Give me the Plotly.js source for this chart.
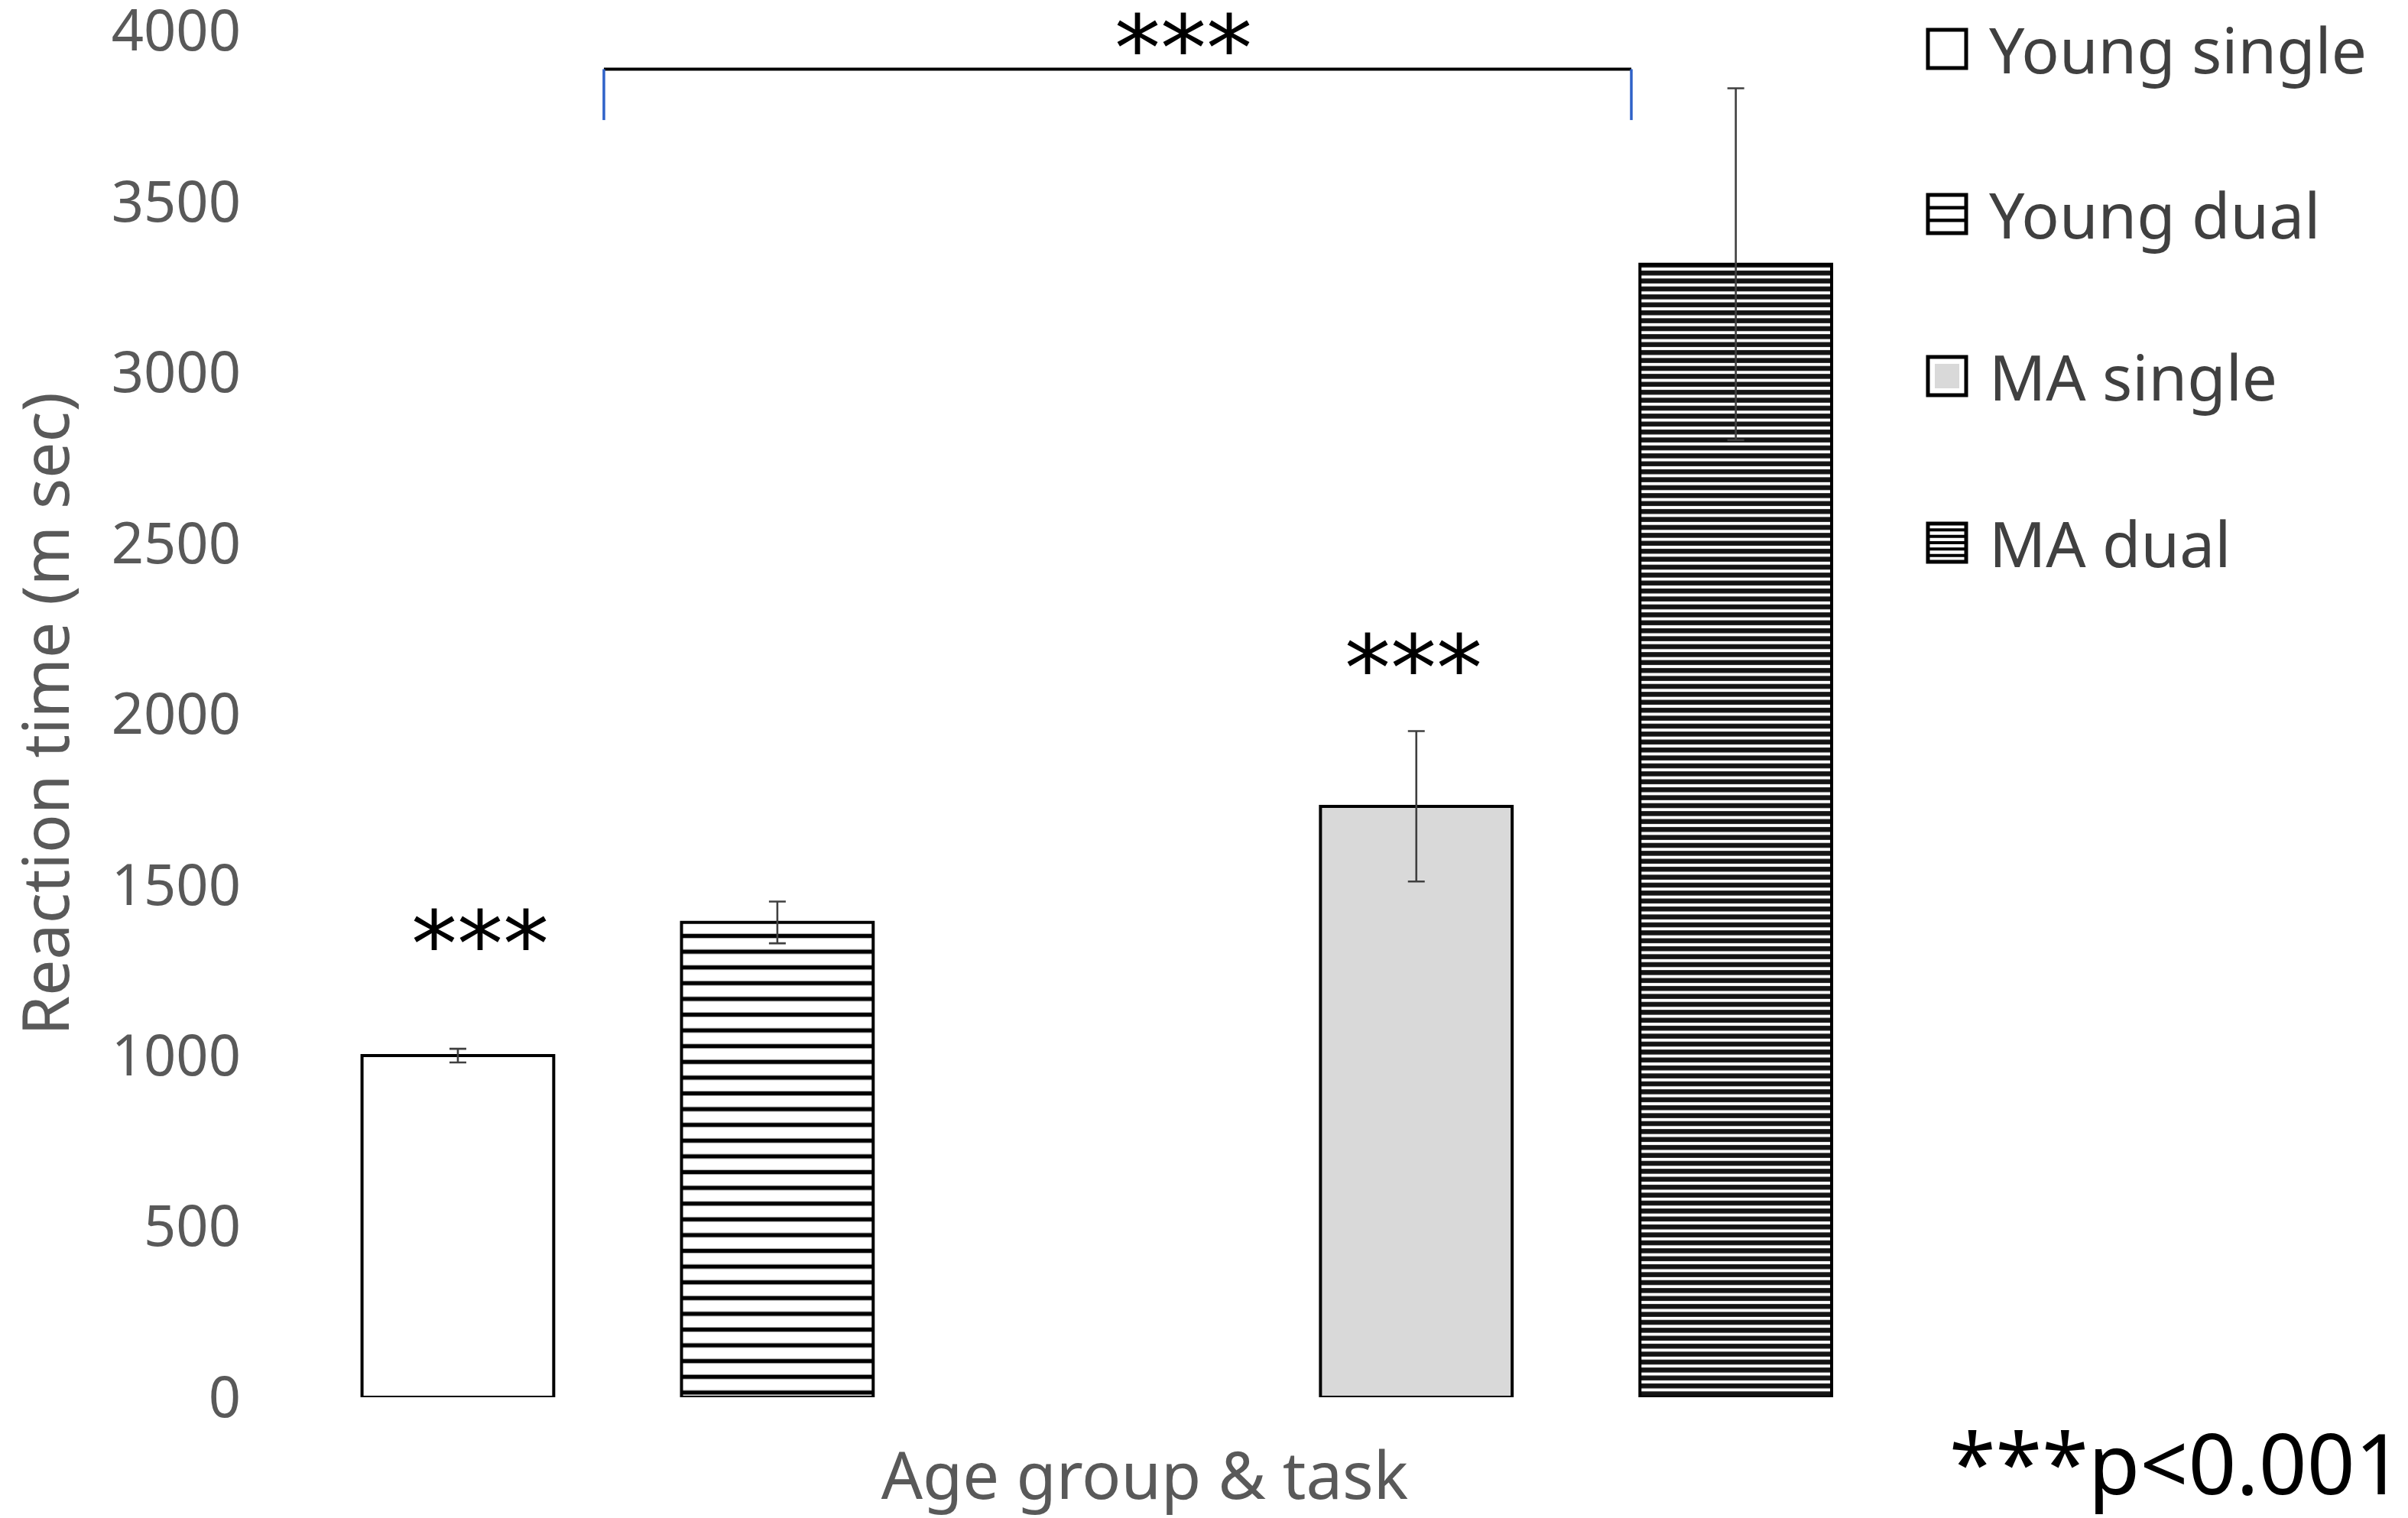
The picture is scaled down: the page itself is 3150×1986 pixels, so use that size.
<!DOCTYPE html>
<html>
<head>
<meta charset="utf-8">
<script src="https://cdn.plot.ly/plotly-3.0.1.min.js"></script>
<style>html,body{margin:0;padding:0;background:#fff;}#chart{width:3150px;height:1986px;}</style>
</head>
<body>
<div id="chart"></div>
<script>
// ---- data ----
const categories = ['Young single', 'Young dual', 'MA single', 'MA dual'];
const reactionTime = [1000, 1390, 1730, 3317];
const errorSEM = [20, 61, 220, 515];
const yTickVals = [0, 500, 1000, 1500, 2000, 2500, 3000, 3500, 4000];
const yTickText = ['0', '500', '1000', '1500', '2000', '2500', '3000', '3500', '4000'];
const sigLabel = '***';
const noteText = '***p<0.001';

// ---- layout geometry ----
const W = 3150, H = 1986;
const M = {l: 390, r: 545, t: 40, b: 158};
const PW = W - M.l - M.r, PH = H - M.t - M.b;
const px2x = px => (px - M.l) / PW;
const px2y = py => (H - M.b - py) / PH;

// category slots: a spacer slot separates the two age groups
const catArray = [categories[0], categories[1], 'spacer', categories[2], categories[3]];

const fills = [
  {color: '#ffffff', pattern: {shape: ''}},
  {color: '#ffffff', pattern: {shape: '-', size: 20.6, solidity: 0.27, fgcolor: '#000000', bgcolor: '#ffffff', fillmode: 'replace'}},
  {color: '#d9d9d9', pattern: {shape: ''}},
  {color: '#ffffff', pattern: {shape: '-', size: 10.4, solidity: 0.62, fgcolor: '#141414', bgcolor: '#ffffff', fillmode: 'replace'}}
];

const traces = categories.map((c, i) => ({
  type: 'bar',
  name: c,
  x: [c],
  y: [reactionTime[i]],
  width: 0.6,
  marker: {color: fills[i].color, pattern: fills[i].pattern, line: {color: '#000000', width: 4}},
  error_y: {type: 'data', array: [errorSEM[i]], visible: true, color: '#404040', thickness: 2.6, width: 11},
  showlegend: false,
  hoverinfo: 'skip'
}));

const starFont = {family: 'DejaVu Sans', size: 120, color: '#000000'};
const annotations = [
  {x: 0.07, y: reactionTime[0] + 362, xref: 'x', yref: 'y', text: sigLabel, showarrow: false, font: starFont, yshift: -16},
  {x: 2.99, y: reactionTime[2] + 440, xref: 'x', yref: 'y', text: sigLabel, showarrow: false, font: starFont, yshift: -16},
  {x: 2.27, y: px2y(-8), xref: 'x', yref: 'paper', yanchor: 'top', text: sigLabel, showarrow: false, font: starFont},
  {x: px2x(3146), y: px2y(1912), xref: 'paper', yref: 'paper', xanchor: 'right', yanchor: 'middle', text: noteText, showarrow: false,
   font: {family: 'Noto Sans', size: 110, color: '#000000'}}
];

// bracket
const bx0 = 0.457, bx1 = 3.673, byTop = 3888, byEnd = 3739;
const shapes = [
  {type: 'line', xref: 'x', yref: 'y', x0: bx0, x1: bx1, y0: byTop, y1: byTop, line: {color: '#000000', width: 4}},
  {type: 'line', xref: 'x', yref: 'y', x0: bx0, x1: bx0, y0: byTop, y1: byEnd, line: {color: '#2f62c8', width: 3.5}},
  {type: 'line', xref: 'x', yref: 'y', x0: bx1, x1: bx1, y0: byTop, y1: byEnd, line: {color: '#2f62c8', width: 3.5}}
];

// custom legend (large symbols)
const legRows = [64, 280, 492, 710];
const symL = 2522, symS = 50, textL = 2600;
const legFont = {family: 'Noto Sans', size: 82, color: '#404040'};
categories.forEach((c, i) => {
  const cy = legRows[i];
  const top = cy - symS / 2, bot = cy + symS / 2;
  shapes.push({type: 'rect', xref: 'paper', yref: 'paper', x0: px2x(symL), x1: px2x(symL + symS), y0: px2y(bot), y1: px2y(top),
    line: {color: '#000000', width: 5}, fillcolor: '#ffffff'});
  if (i === 2) {
    shapes.push({type: 'rect', xref: 'paper', yref: 'paper', x0: px2x(symL + 9), x1: px2x(symL + symS - 9), y0: px2y(bot - 9), y1: px2y(top + 9),
      line: {width: 0}, fillcolor: '#d9d9d9'});
  }
  const nLines = i === 1 ? 2 : (i === 3 ? 5 : 0);
  for (let k = 1; k <= nLines; k++) {
    const ly = top + k * symS / (nLines + 1);
    shapes.push({type: 'line', xref: 'paper', yref: 'paper', x0: px2x(symL), x1: px2x(symL + symS), y0: px2y(ly), y1: px2y(ly),
      line: {color: '#000000', width: i === 1 ? 4.5 : 4}});
  }
  annotations.push({x: px2x(textL), y: px2y(cy), xref: 'paper', yref: 'paper', xanchor: 'left', yanchor: 'middle',
    text: c, showarrow: false, font: legFont});
});

const layout = {
  width: W, height: H,
  margin: {l: M.l, r: M.r, t: M.t, b: M.b, pad: 0},
  paper_bgcolor: '#ffffff', plot_bgcolor: '#ffffff',
  font: {family: 'Noto Sans', color: '#595959'},
  showlegend: false,
  barmode: 'overlay',
  xaxis: {
    type: 'category', categoryorder: 'array', categoryarray: catArray,
    range: [-0.5, 4.8], showgrid: false, zeroline: false, showline: false, showticklabels: false, ticks: '',
    automargin: false,
    title: {text: 'Age group & task', font: {family: 'Noto Sans', size: 85, color: '#595959'}, standoff: 76}
  },
  yaxis: {
    range: [0, 4001], tickvals: yTickVals, ticktext: yTickText,
    showgrid: false, zeroline: false, showline: false, ticks: '',
    tickfont: {family: 'Noto Sans', size: 74, color: '#595959'},
    ticklabelstandoff: 74, ticklabeloverflow: 'allow', automargin: false,
    title: {text: 'Reaction time (m sec)', font: {family: 'Noto Sans', size: 84, color: '#595959'}, standoff: 48}
  },
  annotations: annotations,
  shapes: shapes
};

Plotly.newPlot('chart', traces, layout, {displayModeBar: false, staticPlot: true});
</script>
</body>
</html>
